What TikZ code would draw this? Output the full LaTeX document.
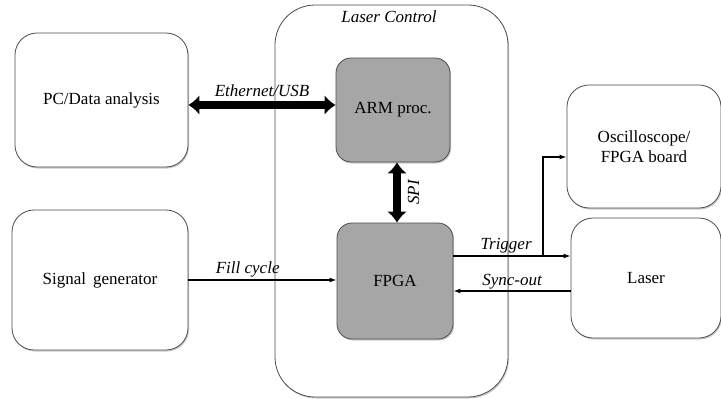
\documentclass[tikz,border=0pt]{standalone}
\usepackage{fontspec}
\setmainfont{Liberation Serif}
\usetikzlibrary{arrows.meta,shadows}
\begin{document}
\begin{tikzpicture}[x=1pt,y=-1pt,
  box/.style={draw=black!70,line width=0.8pt,rounded corners=#1,fill=white,inner sep=0pt,align=center,
     font=\fontsize{17}{20}\selectfont,
     drop shadow={shadow xshift=1pt,shadow yshift=-1.5pt,fill=black!35,opacity=0.6}},
  gbox/.style={box=#1,fill=black!35!white},
  lbl/.style={font=\fontsize{17}{20}\selectfont\itshape,inner sep=1pt},
  bigarrow/.style={line width=7.5pt,{Latex[length=11pt,width=20pt]}-{Latex[length=11pt,width=20pt]}},
  thin/.style={line width=1.4pt,-{Latex[length=7pt,width=5pt]}}]
\useasboundingbox (0,0) rectangle (721,399);
\node[box=40pt,minimum width=233pt,minimum height=392pt] (lc) at (391.5,201) {};
\node[lbl,anchor=north] at (389,10) {Laser Control};
\node[box=22pt,minimum width=173pt,minimum height=134pt] (pc) at (101.5,100) {PC/Data analysis};
\node[box=22pt,minimum width=176pt,minimum height=140pt] (sg) at (100,280) {Signal\, generator};
\node[gbox=15pt,minimum width=114pt,minimum height=104pt] (arm) at (393,110) {ARM proc.};
\node[gbox=15pt,minimum width=116pt,minimum height=116pt] (fpga) at (395,281) {FPGA};
\node[box=22pt,minimum width=154pt,minimum height=123pt] (osc) at (644,146.5) {Oscilloscope/\\FPGA board};
\node[box=22pt,minimum width=150pt,minimum height=120pt] (laser) at (646,278) {Laser};
% connectors
\draw[bigarrow] (pc.east |- 0,105) -- (arm.west |- 0,105) node[lbl,midway,above=4pt] {Ethernet/USB};
\draw[bigarrow] (arm.south -| 397,0) -- (fpga.north -| 397,0) node[lbl,midway,right=6pt,rotate=90,anchor=north] {SPI};
\draw[thin] (sg.east |- 0,280) -- (fpga.west |- 0,280) node[lbl,pos=0.4,above=1pt] {Fill cycle};
\draw[thin] (fpga.east |- 0,256) -- (laser.west |- 0,256) node[lbl,pos=0.45,above=1pt] {Trigger};
\coordinate (br) at (543,256);
\draw[thin] (br) -- (br |- 0,157) -- (osc.west |- 0,157);
\draw[thin] (laser.west |- 0,291) -- (fpga.east |- 0,291) node[lbl,pos=0.5,above=0pt] {Sync-out};
\end{tikzpicture}
\end{document}
